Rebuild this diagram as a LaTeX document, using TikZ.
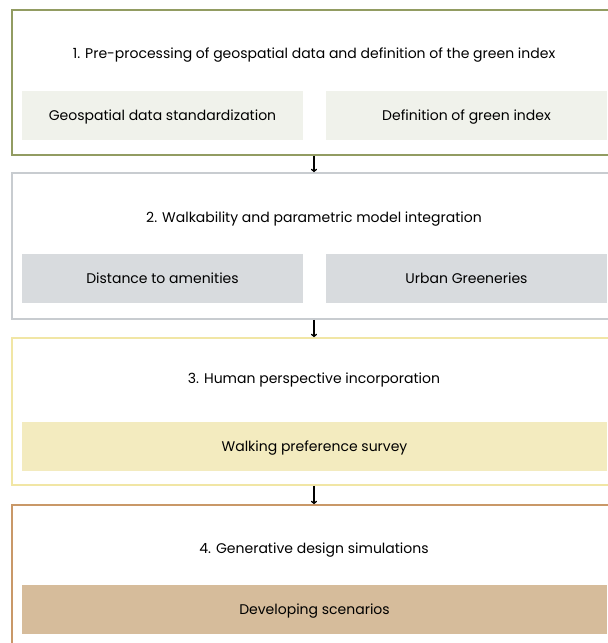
\documentclass[tikz,border=0pt]{standalone}
\usepackage{fontspec}
\setmainfont{Poppins}
\usetikzlibrary{arrows.meta}
\definecolor{olive1}{RGB}{146,156,98}
\definecolor{olivefill}{RGB}{240,242,235}
\definecolor{grey2}{RGB}{200,204,208}
\definecolor{greyfill}{RGB}{216,219,222}
\definecolor{yellow3}{RGB}{241,230,165}
\definecolor{yellowfill}{RGB}{243,235,191}
\definecolor{tan4}{RGB}{201,152,104}
\definecolor{tanfill}{RGB}{214,188,155}
\tikzset{
  stagebox/.style={draw,line width=1.6pt,minimum width=604pt,inner sep=0pt},
  taskbox/.style={inner sep=0pt,minimum height=49pt,text height=10.5pt,text depth=0pt,font=\fontsize{14}{16}\selectfont},
  stagetitle/.style={inner sep=0pt,text height=10.5pt,text depth=0pt,font=\fontsize{14}{16}\selectfont},
  flow/.style={-{To[length=3.5pt,width=6pt]},line width=1.2pt}
}
\begin{document}
\begin{tikzpicture}[x=1pt,y=-1pt]
\useasboundingbox (0,0) rectangle (608,643);
\clip (0,0) rectangle (608,643);
% stages
\node[stagebox,draw=olive1,minimum height=145pt] (s1) at (314,82.5) {};
\node[stagebox,draw=grey2,minimum height=146pt] (s2) at (314,246) {};
\node[stagebox,draw=yellow3,minimum height=147pt] (s3) at (314,411.5) {};
\node[stagebox,draw=tan4,minimum height=160pt] (s4) at (314,585) {};
% titles
\node[stagetitle] (t1) at (314,53) {1. Pre-processing of geospatial data and definition of the green index};
\node[stagetitle] (t2) at (314,217) {2. Walkability and parametric model integration};
\node[stagetitle] (t3) at (314,378) {3. Human perspective incorporation};
\node[stagetitle] (t4) at (314,548) {4. Generative design simulations};
% tasks
\node[taskbox,fill=olivefill,minimum width=281pt] (geo) at (162.5,115.5) {Geospatial data standardization};
\node[taskbox,fill=olivefill,minimum width=281pt] (green) at (466.5,115.5) {Definition of green index};
\node[taskbox,fill=greyfill,minimum width=281pt] (dist) at (162.5,278.5) {Distance to amenities};
\node[taskbox,fill=greyfill,minimum width=281pt] (urban) at (466.5,278.5) {Urban Greeneries};
\node[taskbox,fill=yellowfill,minimum width=585pt] (walk) at (314.5,446) {Walking preference survey};
\node[taskbox,fill=tanfill,minimum width=585pt] (scen) at (314.5,609.5) {Developing scenarios};
% arrows
\draw[flow] (s1.south) -- (s2.north);
\draw[flow] (s2.south) -- (s3.north);
\draw[flow] (s3.south) -- (s4.north);
\end{tikzpicture}
\end{document}
